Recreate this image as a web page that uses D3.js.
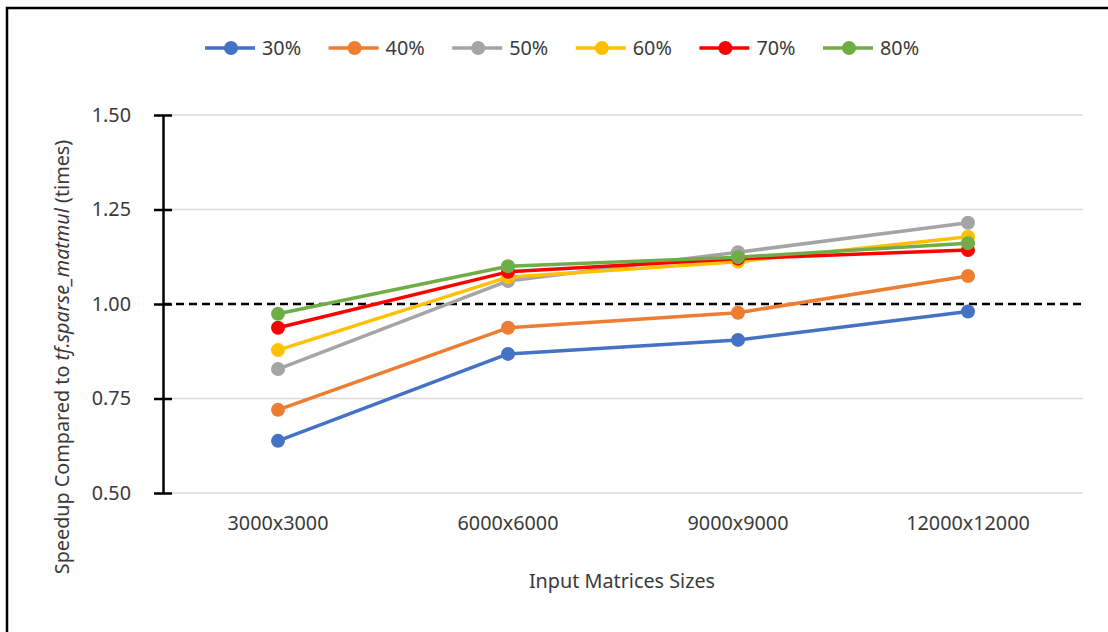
<!DOCTYPE html>
<html>
<head>
<meta charset="utf-8">
<script src="https://cdn.jsdelivr.net/npm/d3@7"></script>
<style>
  html, body { margin: 0; padding: 0; background: #fff; }
  svg { display: block; font-family: "Noto Sans", "Open Sans", sans-serif; }
</style>
</head>
<body>
<svg id="chart" width="1108" height="632"></svg>
<script>
const categories = ["3000x3000", "6000x6000", "9000x9000", "12000x12000"];
const seriesNames = ["30%", "40%", "50%", "60%", "70%", "80%"];
const seriesColors = ["#4472C4", "#ED7D31", "#A5A5A5", "#FFC000", "#FF0000", "#70AD47"];
const s30 = [0.638, 0.868, 0.905, 0.980];
const s40 = [0.720, 0.937, 0.977, 1.074];
const s50 = [0.828, 1.061, 1.137, 1.215];
const s60 = [0.878, 1.071, 1.112, 1.178];
const s70 = [0.937, 1.085, 1.120, 1.143];
const s80 = [0.974, 1.100, 1.124, 1.161];
const yTicks = [0.50, 0.75, 1.00, 1.25, 1.50];
const referenceValue = 1.00;

const seriesValues = [s30, s40, s50, s60, s70, s80];
const series = seriesNames.map((n, i) => ({ name: n, color: seriesColors[i], values: seriesValues[i] }));

const FS = 19.8;
const TXT = "#3a3a3a";
const svg = d3.select("#chart");
const mLeft = 163, mRight = 1083, mTop = 115, mBottom = 493;

// outer frame (top and left edges)
svg.append("path")
  .attr("d", `M7,632 L7,8 L1108,8`)
  .attr("fill", "none").attr("stroke", "#000").attr("stroke-width", 2.5);

const x = d3.scaleBand().domain(categories).range([mLeft, mRight]).paddingInner(0).paddingOuter(0);
const y = d3.scaleLinear().domain([0.5, 1.5]).range([mBottom, mTop]);

// gridlines
svg.append("g").selectAll("line").data(yTicks.filter(t => t !== referenceValue)).join("line")
  .attr("x1", mLeft).attr("x2", mRight)
  .attr("y1", d => y(d)).attr("y2", d => y(d))
  .attr("stroke", "#d9d9d9").attr("stroke-width", 1.5);

// y axis
const yAxis = d3.axisLeft(y).tickValues(yTicks).tickFormat(d3.format(".2f")).tickSize(0).tickPadding(32);
const gy = svg.append("g").attr("transform", `translate(${mLeft},0)`).call(yAxis);
gy.select(".domain").attr("stroke", "#000").attr("stroke-width", 2.5);
gy.selectAll(".tick text").attr("font-size", FS).attr("fill", TXT)
  .attr("font-family", "'Noto Sans', sans-serif");
gy.selectAll(".tick").append("line")
  .attr("x1", -9).attr("x2", 9).attr("stroke", "#000").attr("stroke-width", 2.5);

// x axis labels
const xAxis = d3.axisBottom(x).tickSize(0).tickPadding(23);
const gx = svg.append("g").attr("transform", `translate(0,${mBottom})`).call(xAxis);
gx.select(".domain").remove();
gx.selectAll(".tick text").attr("font-size", FS).attr("fill", TXT)
  .attr("font-family", "'Noto Sans', sans-serif");

// reference dashed line
svg.append("line")
  .attr("x1", mLeft).attr("x2", mRight)
  .attr("y1", y(referenceValue)).attr("y2", y(referenceValue))
  .attr("stroke", "#000").attr("stroke-width", 2.5).attr("stroke-dasharray", "8,5");

// series
const line = d3.line().x((d, i) => x(categories[i]) + x.bandwidth() / 2).y(d => y(d));
const gs = svg.append("g").selectAll("g").data(series).join("g");
gs.append("path")
  .attr("d", d => line(d.values))
  .attr("fill", "none").attr("stroke", d => d.color).attr("stroke-width", 3.5)
  .attr("stroke-linejoin", "round");
gs.each(function(s) {
  d3.select(this).selectAll("circle").data(s.values).join("circle")
    .attr("cx", (d, i) => x(categories[i]) + x.bandwidth() / 2)
    .attr("cy", d => y(d))
    .attr("r", 7)
    .attr("fill", s.color);
});

// legend
const legend = svg.append("g").attr("transform", "translate(231,48)");
const li = legend.selectAll("g").data(series).join("g")
  .attr("transform", (d, i) => `translate(${i * 123.6},0)`);
li.append("line").attr("x1", -26).attr("x2", 24).attr("y1", 0).attr("y2", 0)
  .attr("stroke", d => d.color).attr("stroke-width", 3.5);
li.append("circle").attr("r", 7).attr("fill", d => d.color);
li.append("text").attr("x", 31).attr("y", 0).attr("dy", "0.35em")
  .attr("font-size", FS).attr("fill", TXT).text(d => d.name);

// axis titles
svg.append("text")
  .attr("x", (mLeft + mRight) / 2 - 1).attr("y", 581).attr("dy", "0.35em")
  .attr("text-anchor", "middle").attr("font-size", FS).attr("fill", TXT)
  .text("Input Matrices Sizes");

const yt = svg.append("text")
  .attr("transform", "translate(62,357) rotate(-90)")
  .attr("dy", "0.35em")
  .attr("text-anchor", "middle").attr("font-size", FS).attr("fill", TXT);
yt.append("tspan").text("Speedup Compared to ");
yt.append("tspan").attr("font-style", "italic").text("tf.sparse_matmul");
yt.append("tspan").text(" (times)");
</script>
</body>
</html>
